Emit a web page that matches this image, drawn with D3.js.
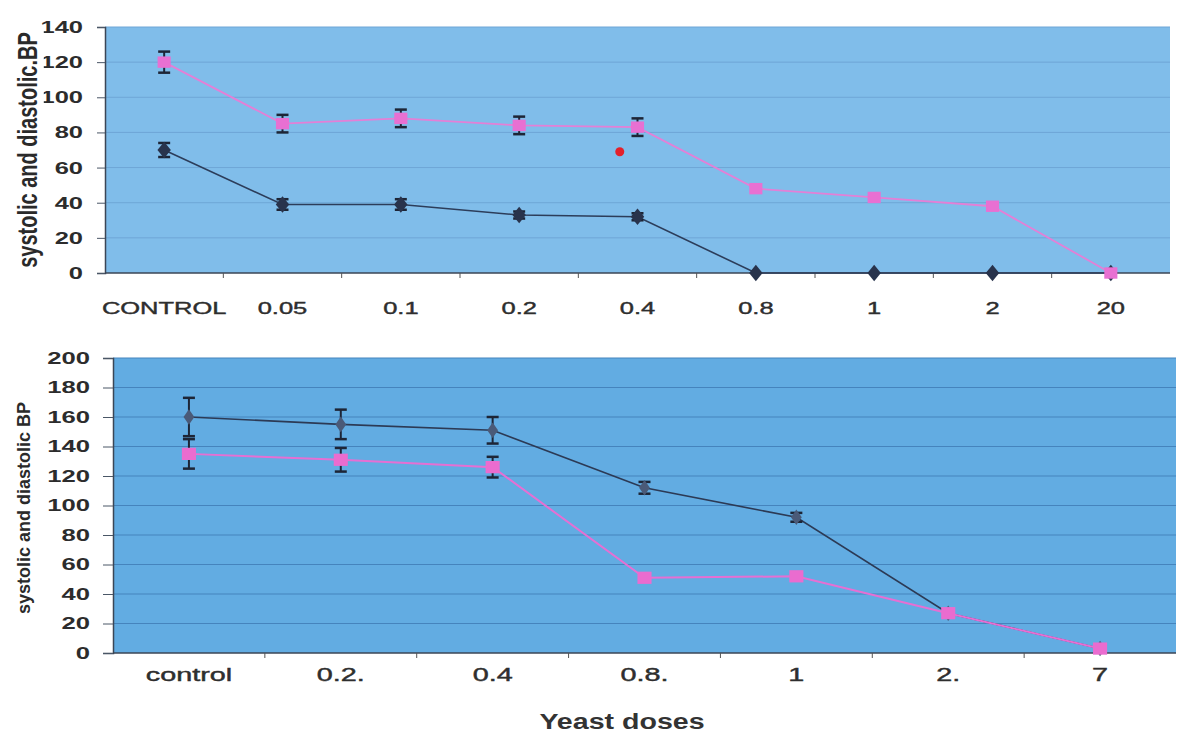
<!DOCTYPE html>
<html>
<head>
<meta charset="utf-8">
<script src="https://cdn.jsdelivr.net/npm/d3@7"></script>
<style>
  body { margin: 0; background: #fff; }
  svg { display: block; font-family: "Liberation Sans", Arial, sans-serif; }
</style>
</head>
<body>
<script>
const w = 1177;
const h = 734;

// upper panel
const topDoses = ["CONTROL", "0.05", "0.1", "0.2", "0.4", "0.8", "1", "2", "20"];
const topPink = [120, 85, 88, 84, 83, 48, 43, 38, 0];
const topPinkErr = [6, 5, 5, 5, 5, 0, 0, 0, 0];
const topDark = [70, 39, 39, 33, 32, 0, 0, 0, 0];
const topDarkErr = [4, 3, 3, 2, 2, 0, 0, 0, 0];
const topTicks = [0, 20, 40, 60, 80, 100, 120, 140];
const strayValue = 69; // lone red dot between 0.2 and 0.4

// lower panel
const botDoses = ["control", "0.2.", "0.4", "0.8.", "1", "2.", "7"];
const botDark = [160, 155, 151, 112, 92, 27, 3];
const botDarkErr = [13, 10, 9, 4, 3, 0, 0];
const botPink = [135, 131, 126, 51, 52, 27, 3];
const botPinkErr = [10, 8, 7, 0, 0, 0, 0];
const botTicks = [0, 20, 40, 60, 80, 100, 120, 140, 160, 180, 200];

const svg = d3.select("body")
  .append("svg")
  .attr("width", w)
  .attr("height", h);

function drawPanel(p) {
  const g = svg.append("g");

  const x = d3.scaleBand().domain(p.doses).range([p.left, p.right]);
  const y = d3.scaleLinear().domain([0, p.yMax]).range([p.bottom, p.top]);
  const bw = x.bandwidth();
  const cx = (i) => x(p.doses[i]) + bw / 2;

  // plot area
  g.append("rect")
    .attr("x", p.left).attr("y", p.top)
    .attr("width", p.right - p.left).attr("height", p.bottom - p.top)
    .attr("fill", p.bg);

  // horizontal grid
  g.selectAll(".grid")
    .data(p.ticks.filter((t) => t > 0))
    .enter()
    .append("line")
    .attr("x1", p.left).attr("x2", p.right)
    .attr("y1", (d) => y(d)).attr("y2", (d) => y(d))
    .attr("stroke", p.grid)
    .attr("stroke-width", 1);

  // y axis
  const yAxis = d3.axisLeft(y).tickValues(p.ticks).tickSize(p.tickLen).tickPadding(p.tickPad);
  const ya = g.append("g")
    .attr("transform", "translate(" + p.left + ",0)")
    .call(yAxis);
  ya.select(".domain").attr("stroke", "#3b4656").attr("stroke-width", 1.5);
  ya.selectAll(".tick line").attr("stroke", "#4a5666");
  ya.selectAll(".tick text")
    .attr("font-size", p.yFont)
    .attr("font-weight", "bold")
    .attr("fill", "#2c2c2c")
    .each(function () {
      const t = d3.select(this);
      const x0 = +t.attr("x");
      t.attr("x", 0).attr("transform", "translate(" + x0 + ",0) scale(" + p.stretch + ",1)");
    });

  // x axis line and ticks between categories
  g.append("line")
    .attr("x1", p.left).attr("x2", p.right)
    .attr("y1", p.bottom).attr("y2", p.bottom)
    .attr("stroke", "#3b4656").attr("stroke-width", 1.5);
  g.selectAll(".xtick")
    .data(p.doses.slice(1))
    .enter()
    .append("line")
    .attr("x1", (d) => x(d)).attr("x2", (d) => x(d))
    .attr("y1", p.bottom).attr("y2", p.bottom + 5)
    .attr("stroke", "#555");

  // category labels
  g.selectAll(".xlab")
    .data(p.doses)
    .enter()
    .append("text")
    .attr("transform", (d) => "translate(" + (x(d) + bw / 2) + "," + p.labelY + ") scale(" + p.stretch + ",1)")
    .attr("text-anchor", "middle")
    .attr("font-size", p.xFont)
    .attr("fill", "#2e2e2e")
    .attr("stroke", "#2e2e2e")
    .attr("stroke-width", 0.4)
    .text((d) => d);

  // series
  p.series.forEach((s) => {
    const line = d3.line().x((d, i) => cx(i)).y((d) => y(d));
    g.append("path")
      .datum(s.values)
      .attr("d", line)
      .attr("fill", "none")
      .attr("stroke", s.line)
      .attr("stroke-width", s.width);

    // error bars
    const eb = s.values.map((v, i) => ({ i: i, v: v, e: s.errs[i] })).filter((d) => d.e > 0);
    const cap = 6;
    eb.forEach((d) => {
      g.append("line")
        .attr("x1", cx(d.i)).attr("x2", cx(d.i))
        .attr("y1", y(d.v - d.e)).attr("y2", y(d.v + d.e))
        .attr("stroke", "#1d2536").attr("stroke-width", 2);
      [d.v - d.e, d.v + d.e].forEach((yy) => {
        g.append("line")
          .attr("x1", cx(d.i) - cap).attr("x2", cx(d.i) + cap)
          .attr("y1", y(yy)).attr("y2", y(yy))
          .attr("stroke", "#1d2536").attr("stroke-width", 2.5);
      });
    });

    // markers
    const sym = d3.symbol().type(s.marker === "square" ? d3.symbolSquare : d3.symbolDiamond).size(s.size);
    g.selectAll(null)
      .data(s.values)
      .enter()
      .append("path")
      .attr("d", sym)
      .attr("transform", (d, i) => "translate(" + cx(i) + "," + y(d) + ") scale(" + s.sx + ",1)")
      .attr("fill", s.fill);
  });

  // axis title
  const tg = g.append("g")
    .attr("transform", "translate(" + p.titleX + "," + p.titleY + ") rotate(-90) scale(1," + p.titleStretch + ")");
  const patch = tg.append("rect").attr("fill", "#fff");
  const tt = tg.append("text")
    .attr("text-anchor", "middle")
    .attr("dy", "0.35em")
    .attr("font-size", p.titleFont)
    .attr("font-weight", "bold")
    .attr("fill", "#2a2a2a")
    .text(p.title);
  const len = tt.node().getComputedTextLength();
  patch.attr("x", -len / 2 - 2).attr("y", -p.titleFont * 0.6)
    .attr("width", len + 4).attr("height", p.titleFont * 1.2)
    .attr("opacity", p.patch ? 1 : 0);

  return { x: x, y: y, bw: bw };
}

const topScales = drawPanel({
  left: 105, right: 1170, top: 27, bottom: 273,
  yMax: 140, ticks: topTicks, doses: topDoses,
  bg: "#80bdea", grid: "#6ea6d6",
  tickLen: 8, tickPad: 14, yFont: 17, xFont: 17, stretch: 1.5,
  labelY: 314,
  title: "systolic and diastolic.BP", titleX: 27, titleY: 150, titleFont: 20, titleStretch: 1.4, patch: true,
  series: [
    { values: topDark, errs: topDarkErr, line: "#2c3d5a", width: 1.6, fill: "#28334c", marker: "diamond", size: 80, sx: 1.4 },
    { values: topPink, errs: topPinkErr, line: "#e47fd6", width: 1.8, fill: "#e870d2", marker: "square", size: 130, sx: 1.15 }
  ]
});

// stray red dot of the original figure
svg.append("circle")
  .attr("cx", topScales.x("0.2") + topScales.bw * 0.85 + topScales.bw / 2)
  .attr("cy", topScales.y(strayValue))
  .attr("r", 4.5)
  .attr("fill", "#e3202a");

drawPanel({
  left: 113, right: 1176, top: 358, bottom: 653,
  yMax: 200, ticks: botTicks, doses: botDoses,
  bg: "#62ace2", grid: "#4584bd",
  tickLen: 10, tickPad: 13, yFont: 16, xFont: 18, stretch: 1.6,
  labelY: 681,
  title: "systolic and diastolic BP", titleX: 24, titleY: 508, titleFont: 18, titleStretch: 1.0, patch: false,
  series: [
    { values: botDark, errs: botDarkErr, line: "#2c3a55", width: 1.6, fill: "#4a5a78", marker: "diamond", size: 70, sx: 1.2 },
    { values: botPink, errs: botPinkErr, line: "#e66fd3", width: 2, fill: "#ea6ccf", marker: "square", size: 150, sx: 1.15 }
  ]
});

// shared x title
svg.append("text")
  .attr("transform", "translate(622,729) scale(1.3,1)")
  .attr("text-anchor", "middle")
  .attr("font-size", 22)
  .attr("font-weight", "bold")
  .attr("fill", "#333")
  .text("Yeast doses");
</script>
</body>
</html>
